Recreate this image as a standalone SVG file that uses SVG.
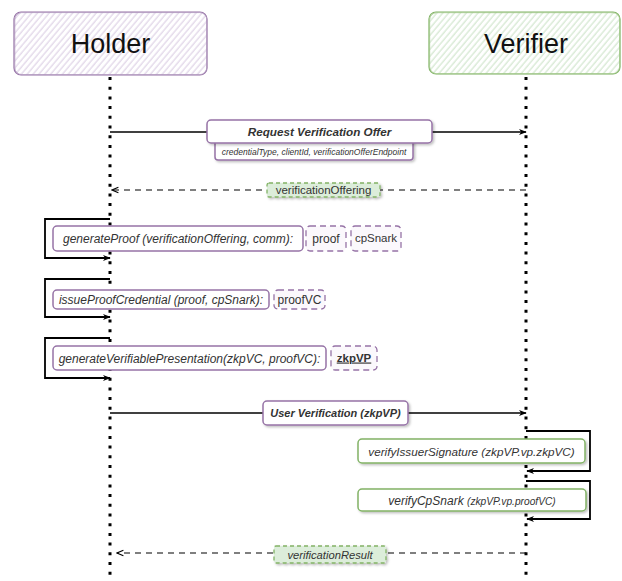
<svg xmlns="http://www.w3.org/2000/svg" width="622" height="581" viewBox="0 0 622 581">
  <style>
    .lifeline { stroke: #000; stroke-width: 3; stroke-dasharray: 3 6.7; fill: none; }
    .msg { stroke: #000; stroke-width: 1.5; fill: none; }
    .ret { stroke: #000; stroke-width: 1.2; stroke-dasharray: 6 5; fill: none; }
    .loop { stroke: #000; stroke-width: 1.8; fill: none; }
    .box { fill: #fff; stroke: #9673a6; stroke-width: 1.5; }
    .gbox { fill: #fff; stroke: #82b366; stroke-width: 1.5; }
    .dbox { fill: #fbf8fc; stroke: #9673a6; stroke-width: 1.3; stroke-dasharray: 6 4; }
    .rbox { fill: #dcedda; stroke: #82b366; stroke-width: 1.3; stroke-dasharray: 4 3; }
    .t { font-family: "Liberation Sans", Arial, sans-serif; fill: #333; text-anchor: middle; }
    .head { font-size: 27px; fill: #111; }
    .it { font-style: italic; }
    .b { font-weight: bold; }
  </style>
  <defs>
    <pattern id="hatchP" patternUnits="userSpaceOnUse" width="4.5" height="10" patternTransform="rotate(40)">
      <line x1="1" y1="0" x2="1" y2="10" stroke="#d8cae1" stroke-width="1"/>
    </pattern>
    <pattern id="hatchG" patternUnits="userSpaceOnUse" width="4.5" height="10" patternTransform="rotate(40)">
      <line x1="1" y1="0" x2="1" y2="10" stroke="#c8e1c4" stroke-width="1"/>
    </pattern>
    <filter id="shadow" x="-10%" y="-30%" width="120%" height="170%">
      <feDropShadow dx="1.5" dy="1.5" stdDeviation="1" flood-color="#000" flood-opacity="0.25"/>
    </filter>
    <marker id="arrowFilled" viewBox="0 0 10 10" refX="9" refY="5" markerWidth="8" markerHeight="8" orient="auto" markerUnits="userSpaceOnUse">
      <path d="M0,1 L10,5 L0,9 L3,5 z" fill="#000"/>
    </marker>
    <marker id="arrowOpen" viewBox="0 0 10 10" refX="9" refY="5" markerWidth="8" markerHeight="8" orient="auto" markerUnits="userSpaceOnUse">
      <path d="M1,1.5 L9,5 L1,8.5" fill="none" stroke="#000" stroke-width="1.3"/>
    </marker>
  </defs>

  <!-- participants -->
  <g id="holder">
    <rect x="14" y="12" width="193" height="63" rx="7" fill="url(#hatchP)" stroke="#9673a6" stroke-width="1.2"/>
    <rect x="14.8" y="12.6" width="192" height="62" rx="7" fill="none" stroke="#b49cc2" stroke-width="0.8"/>
    <text class="t head" x="110.5" y="53">Holder</text>
  </g>
  <g id="verifier">
    <rect x="429" y="12" width="191" height="62" rx="7" fill="url(#hatchG)" stroke="#82b366" stroke-width="1.2"/>
    <rect x="429.7" y="12.7" width="190" height="61" rx="7" fill="none" stroke="#a3c98c" stroke-width="0.8"/>
    <text class="t head" x="526" y="53">Verifier</text>
  </g>

  <!-- lifelines and connectors -->
  <g id="connectors">
    <line class="lifeline" x1="110" y1="77" x2="110" y2="581"/>
    <line class="lifeline" x1="526" y1="77" x2="526" y2="581"/>
    <line class="msg" x1="110" y1="132" x2="526" y2="132" marker-end="url(#arrowFilled)"/>
    <line class="ret" x1="526" y1="190" x2="112" y2="190" marker-end="url(#arrowOpen)"/>
    <polyline class="loop" points="110,219 45,219 45,258 110,258" marker-end="url(#arrowFilled)"/>
    <polyline class="loop" points="110,279 45,279 45,317 110,317" marker-end="url(#arrowFilled)"/>
    <polyline class="loop" points="110,338 45,338 45,378 110,378" marker-end="url(#arrowFilled)"/>
    <line class="msg" x1="110" y1="413" x2="526" y2="413" marker-end="url(#arrowFilled)"/>
    <polyline class="loop" points="526,431 590,431 590,471 527,471" marker-end="url(#arrowFilled)"/>
    <polyline class="loop" points="526,481 590,481 590,519 527,519" marker-end="url(#arrowFilled)"/>
    <line class="ret" x1="526" y1="553" x2="117" y2="553" marker-end="url(#arrowOpen)"/>
  </g>

  <!-- messages -->
  <g id="request-offer">
    <rect class="box" x="215" y="138" width="198" height="22" rx="3" filter="url(#shadow)"/>
    <text class="t it" x="314" y="155" font-size="8.5">credentialType, clientId, verificationOfferEndpoint</text>
    <rect class="box" x="207" y="120" width="225" height="23" rx="4" filter="url(#shadow)"/>
    <text class="t it b" x="319.5" y="136" font-size="11.7">Request Verification Offer</text>
  </g>

  <g id="verification-offering">
    <rect class="rbox" x="267" y="183" width="113" height="14" rx="2" filter="url(#shadow)"/>
    <text class="t" x="323.5" y="194" font-size="11.5" fill="#222">verificationOffering</text>
  </g>

  <g id="generate-proof">
    <rect class="box" x="53" y="226" width="250" height="25" rx="4"/>
    <text class="t it" x="178" y="243" font-size="12">generateProof (verificationOffering, comm):</text>
  </g>
  <g id="proof">
    <rect class="dbox" x="306" y="226" width="40" height="25" rx="4"/>
    <text class="t" x="326" y="243" font-size="12">proof</text>
  </g>
  <g id="cpsnark">
    <rect class="dbox" x="351" y="226" width="50" height="25" rx="4"/>
    <text class="t" x="376" y="242" font-size="11.5">cpSnark</text>
  </g>

  <g id="issue-proof-credential">
    <rect class="box" x="53" y="290" width="216" height="19" rx="4"/>
    <text class="t it" x="161" y="304" font-size="12">issueProofCredential (proof, cpSnark):</text>
  </g>
  <g id="proofvc">
    <rect class="dbox" x="274" y="290" width="51" height="19" rx="4"/>
    <text class="t" x="299.5" y="304" font-size="12">proofVC</text>
  </g>

  <g id="generate-vp">
    <rect class="box" x="53" y="346" width="273" height="24" rx="4"/>
    <text class="t it" x="189.5" y="362.5" font-size="12">generateVerifiablePresentation(zkpVC, proofVC):</text>
  </g>
  <g id="zkpvp">
    <rect class="dbox" x="331" y="346" width="46" height="24" rx="4" stroke-width="2"/>
    <text class="t b" x="354" y="361.5" font-size="11.5" text-decoration="underline">zkpVP</text>
  </g>

  <g id="user-verification">
    <rect class="box" x="263" y="401" width="145" height="24" rx="4" filter="url(#shadow)"/>
    <text class="t it b" x="335.5" y="417" font-size="11">User Verification (zkpVP)</text>
  </g>

  <g id="verify-issuer-signature">
    <rect class="gbox" x="358" y="439" width="227" height="24" rx="4" filter="url(#shadow)"/>
    <text class="t it" x="471.5" y="455.5" font-size="11.7">verifyIssuerSignature (zkpVP.vp.zkpVC)</text>
  </g>

  <g id="verify-cpsnark">
    <rect class="gbox" x="358" y="489" width="228" height="22" rx="4" filter="url(#shadow)"/>
    <text class="t it" x="472" y="504.5" font-size="12">verifyCpSnark <tspan font-size="10.2">(zkpVP.vp.proofVC)</tspan></text>
  </g>

  <g id="verification-result">
    <rect class="rbox" x="274" y="546" width="112" height="17" rx="2" filter="url(#shadow)"/>
    <text class="t it" x="330" y="558.5" font-size="11.2" fill="#222">verificationResult</text>
  </g>
</svg>
